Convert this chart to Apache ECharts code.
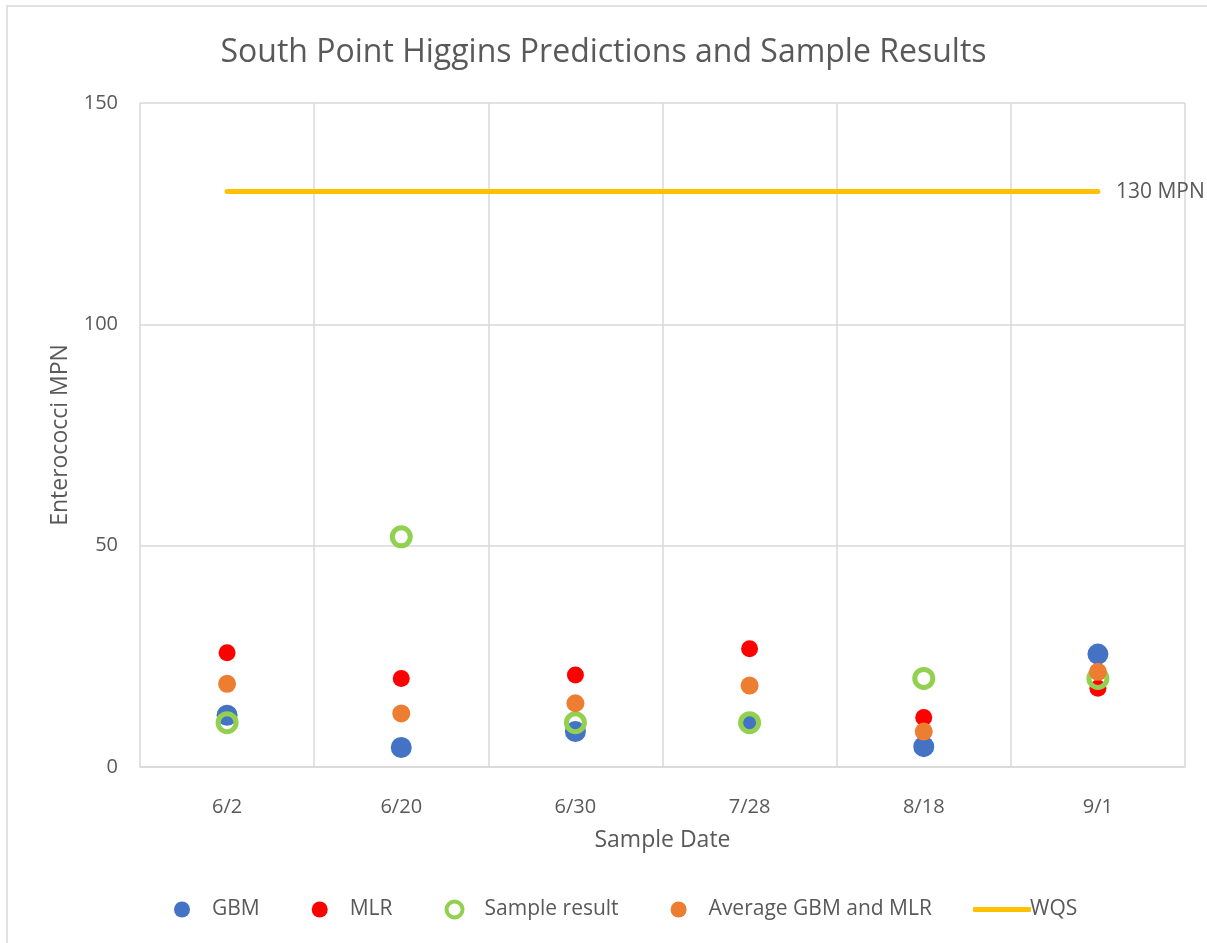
<!DOCTYPE html>
<html>
<head>
<meta charset="utf-8">
<script src="https://cdn.jsdelivr.net/npm/echarts@6/dist/echarts.min.js"></script>
<style>
  html, body { margin: 0; padding: 0; background: #fff; }
  #chart { width: 1207px; height: 943px; }
</style>
</head>
<body>
<div id="chart"></div>
<script>
// chart data
const dates = ['6/2', '6/20', '6/30', '7/28', '8/18', '9/1'];
const gbm = [11.7, 4.4, 8.0, 9.9, 4.6, 25.5];
const mlr = [25.8, 20.0, 20.8, 26.7, 11.2, 17.8];
const sampleResult = [10, 52, 10, 10, 20, 20];
const avgGbmMlr = [18.8, 12.1, 14.4, 18.4, 8.0, 21.5];
const wqs = [130, 130, 130, 130, 130, 130];
const yTicks = [0, 50, 100, 150];

const textColor = '#595959';
const font = 'Open Sans';

const myChart = echarts.init(document.getElementById('chart'));

const option = {
    textStyle: { fontFamily: font, color: textColor },
    title: {
        text: 'South Point Higgins Predictions and Sample Results',
        left: 'center',
        top: 32,
        textStyle: { fontFamily: font, fontSize: 32, fontWeight: 'normal', color: textColor }
    },
    graphic: [{
        type: 'rect',
        shape: { x: 7, y: 6, width: 1210, height: 950 },
        style: { fill: 'none', stroke: '#d9d9d9', lineWidth: 1.5 }
    }],
    legend: [{
        data: [
            'GBM',
            'MLR',
            { name: 'Sample result', itemStyle: { color: '#fff', borderColor: '#92D050', borderWidth: 4 } },
            'Average GBM and MLR'
        ],
        left: 169,
        top: 894,
        itemWidth: 16,
        itemHeight: 16,
        itemGap: 52,
        icon: 'circle',
        textStyle: { fontFamily: font, fontSize: 21, color: textColor, padding: [0, 0, 0, 17] }
    }, {
        data: ['WQS'],
        left: 968,
        top: 894,
        itemWidth: 58,
        itemHeight: 5,
        icon: 'roundRect',
        textStyle: { fontFamily: font, fontSize: 21, color: textColor, padding: [0, 0, 0, -6] }
    }],
    grid: {
        left: 140,
        right: 22,
        top: 103,
        bottom: 176
    },
    xAxis: {
        type: 'category',
        data: dates,
        name: 'Sample Date',
        nameLocation: 'middle',
        nameGap: 62,
        nameTextStyle: { fontSize: 23, color: textColor },
        axisLine: { lineStyle: { color: '#d9d9d9', width: 1.5 } },
        axisTick: { show: false },
        axisLabel: { fontSize: 20, color: textColor, margin: 30 },
        splitLine: { show: true, lineStyle: { color: '#d9d9d9', width: 1.5 } }
    },
    yAxis: {
        type: 'value',
        min: yTicks[0],
        max: yTicks[yTicks.length - 1],
        interval: yTicks[1] - yTicks[0],
        name: 'Enterococci MPN',
        nameLocation: 'middle',
        nameGap: 68,
        nameTextStyle: { fontSize: 23, color: textColor },
        axisLine: { show: false },
        axisTick: { show: false },
        axisLabel: { fontSize: 20, color: textColor, margin: 22 },
        splitLine: { lineStyle: { color: '#d9d9d9', width: 1.5 } }
    },
    series: [
        {
            name: 'GBM',
            type: 'scatter',
            data: gbm,
            symbolSize: 21,
            itemStyle: { color: '#4472C4', opacity: 1 }
        },
        {
            name: 'MLR',
            type: 'scatter',
            data: mlr,
            symbolSize: 17,
            itemStyle: { color: '#FF0000', opacity: 1 }
        },
        {
            name: 'Sample result',
            type: 'scatter',
            data: sampleResult,
            symbolSize: 18,
            itemStyle: { color: 'rgba(0,0,0,0)', borderColor: '#92D050', borderWidth: 5, opacity: 1 }
        },
        {
            name: 'Average GBM and MLR',
            type: 'scatter',
            data: avgGbmMlr,
            symbolSize: 18,
            itemStyle: { color: '#ED7D31', opacity: 1 }
        },
        {
            name: 'WQS',
            type: 'line',
            data: wqs,
            showSymbol: false,
            symbol: 'none',
            lineStyle: { color: '#FFC000', width: 5, cap: 'round' },
            itemStyle: { color: '#FFC000' },
            endLabel: {
                show: true,
                formatter: p => p.value + ' MPN',
                fontSize: 21,
                color: textColor,
                distance: 18
            }
        }
    ]
};
myChart.setOption(option);
</script>
</body>
</html>
